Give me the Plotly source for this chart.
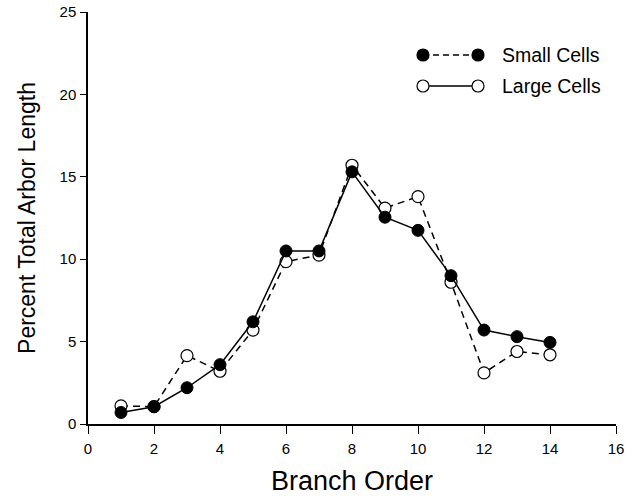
import plotly.graph_objects as go

branch_order = [1, 2, 3, 4, 5, 6, 7, 8, 9, 10, 11, 12, 13, 14]
small_cells = [0.7, 1.05, 2.2, 3.6, 6.2, 10.5, 10.5, 15.3, 12.55, 11.75, 9.0, 5.7, 5.3, 4.95]
large_cells = [1.1, 1.05, 4.15, 3.2, 5.7, 9.85, 10.25, 15.7, 13.1, 13.8, 8.6, 3.1, 4.4, 4.2]
x_ticks = [0, 2, 4, 6, 8, 10, 12, 14, 16]
y_ticks = [0, 5, 10, 15, 20, 25]
series_names = ["Small Cells", "Large Cells"]

FONT = "Liberation Sans, Arial, sans-serif"

FW, FH = 636, 496
L, T, W, H = 88, 12, 528, 412

fig = go.Figure()
fig.add_trace(go.Scatter(
    x=branch_order, y=large_cells, mode="lines+markers", showlegend=False,
    line=dict(color="black", width=1.5, dash="7px,5px"),
    marker=dict(symbol="circle", size=12, color="white", line=dict(color="black", width=1.2)),
))
fig.add_trace(go.Scatter(
    x=branch_order, y=small_cells, mode="lines+markers", showlegend=False,
    line=dict(color="black", width=1.5),
    marker=dict(symbol="circle", size=12, color="black", line=dict(color="black", width=1)),
))

def px(xp):
    return (xp - L) / W
def py(yp):
    return (T + H - yp) / H

legend_rows = [(55, "black", "6px,4px", series_names[0]), (86, "white", "solid", series_names[1])]
for yp, fill, dash, name in legend_rows:
    fig.add_shape(type="line", xref="paper", yref="paper",
                  x0=px(423), x1=px(478), y0=py(yp), y1=py(yp),
                  line=dict(color="black", width=1.5, dash=dash))
    for xc in (423, 478):
        fig.add_shape(type="circle", xref="paper", yref="paper",
                      xsizemode="pixel", ysizemode="pixel",
                      xanchor=px(xc), yanchor=py(yp),
                      x0=-6, x1=6, y0=-6, y1=6,
                      fillcolor=fill, line=dict(color="black", width=1.2))
    fig.add_annotation(xref="paper", yref="paper", x=px(500), y=py(yp),
                       text=name, showarrow=False, xanchor="left", yanchor="middle",
                       font=dict(family=FONT, size=19.5, color="black"))

fig.update_layout(
    width=FW, height=FH,
    margin=dict(l=L, r=FW - L - W, t=T, b=FH - T - H, pad=0, autoexpand=False),
    paper_bgcolor="white", plot_bgcolor="white",
    font=dict(family=FONT, color="black"),
    xaxis=dict(range=[0, 16], tickvals=x_ticks, ticks="outside", ticklen=8,
               tickcolor="black", showline=True, linecolor="black", linewidth=1.5,
               showgrid=False, zeroline=False, tickfont=dict(size=15), automargin=False,
               ticklabelstandoff=2, ticklabeloverflow="allow",
               title=dict(text="Branch Order", font=dict(size=27), standoff=23)),
    yaxis=dict(range=[0, 25], tickvals=y_ticks, ticks="outside", ticklen=6,
               tickcolor="black", showline=True, linecolor="black", linewidth=1.5,
               showgrid=False, zeroline=False, tickfont=dict(size=15), automargin=False,
               ticklabelstandoff=1, ticklabeloverflow="allow",
               title=dict(text="Percent Total Arbor Length", font=dict(size=23), standoff=18)),
)

# remove the default page margin so the figure fills the 636x496 window exactly
fig.write_html("out.html", config={"displayModeBar": False},
               post_script="document.body.style.margin='0';")
